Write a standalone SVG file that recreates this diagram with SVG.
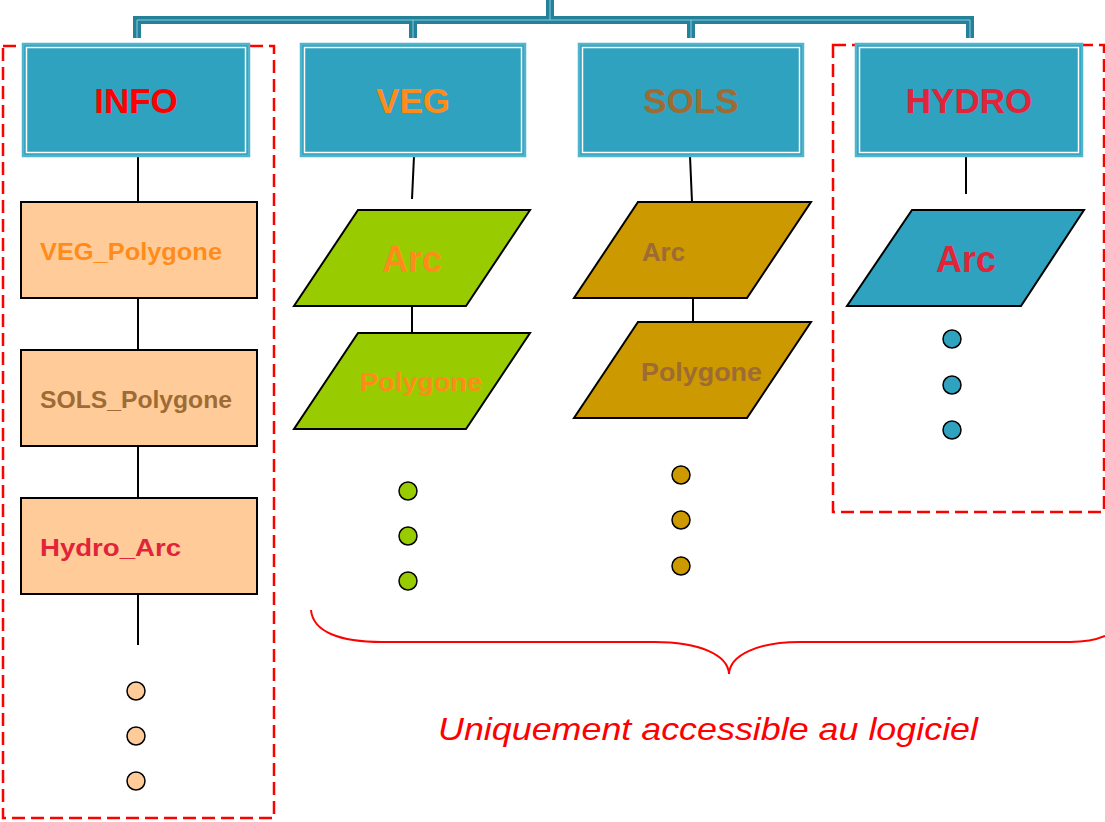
<svg xmlns="http://www.w3.org/2000/svg" width="1105" height="822" viewBox="0 0 1105 822">
<style>
.hdr{fill:#2EA2BF;stroke:#4FB4CC;stroke-width:2.5}
.hin{fill:none;stroke:#fff;stroke-width:1.5}
.ht{font-family:"Liberation Sans",Arial,sans-serif;font-weight:bold;font-size:35px;text-anchor:middle}
.lt{font-family:"Liberation Sans",Arial,sans-serif;font-weight:bold;font-size:23px}
.rect{fill:#FFCC99;stroke:#000;stroke-width:2}
.par{stroke:#000;stroke-width:2}
.ln{stroke:#000;stroke-width:2;fill:none}
.dash{fill:none;stroke:#FF0000;stroke-width:2.5;stroke-dasharray:13 6}
.dot{stroke:#000;stroke-width:1.5}
</style>
<rect width="1105" height="822" fill="#fff"/>
<g id="connectors">
<path d="M550 0 V20 M137 38 V20 H970 V38 M413 38 V20 M691 38 V20" fill="none" stroke="#23819A" stroke-width="8"/>
<path d="M550 0 V20 M137 38 V20 H970 V38 M413 38 V20 M691 38 V20" fill="none" stroke="#8CCBDB" stroke-width="1"/>
<line class="ln" x1="138" y1="156" x2="138" y2="202"/>
<line class="ln" x1="138" y1="298" x2="138" y2="350"/>
<line class="ln" x1="138" y1="446" x2="138" y2="498"/>
<line class="ln" x1="138" y1="594" x2="138" y2="645"/>
<line class="ln" x1="414" y1="156" x2="412" y2="199"/>
<line class="ln" x1="412" y1="296" x2="412" y2="333"/>
<line class="ln" x1="690" y1="156" x2="692" y2="202"/>
<line class="ln" x1="693" y1="298" x2="693" y2="322"/>
<line class="ln" x1="966" y1="152" x2="966" y2="194"/>
</g>
<rect class="dash" x="3" y="46" width="271" height="772"/>
<rect class="dash" x="833" y="45" width="271" height="467"/>
<g id="info">
<rect class="hdr" x="23" y="44" width="226" height="112"/>
<rect class="hin" x="26.5" y="47.5" width="219" height="105"/>
<text class="ht" x="136" y="113" fill="#FF0000">INFO</text>
</g>
<g id="veg">
<rect class="hdr" x="301" y="44" width="224" height="112"/>
<rect class="hin" x="304.5" y="47.5" width="217" height="105"/>
<text class="ht" x="413" y="113" fill="#FF8C1A">VEG</text>
</g>
<g id="sols">
<rect class="hdr" x="579" y="44" width="224" height="112"/>
<rect class="hin" x="582.5" y="47.5" width="217" height="105"/>
<text class="ht" x="691" y="113" fill="#9E6B35">SOLS</text>
</g>
<g id="hydro">
<rect class="hdr" x="856" y="44" width="226" height="112"/>
<rect class="hin" x="859.5" y="47.5" width="219" height="105"/>
<text class="ht" x="969" y="113" fill="#E0243A">HYDRO</text>
</g>
<g id="veg_polygone">
<rect class="rect" x="21" y="202" width="236" height="96"/>
<text class="lt" x="40" y="260" fill="#FF8C1A" textLength="182" lengthAdjust="spacingAndGlyphs">VEG_Polygone</text>
</g>
<g id="sols_polygone">
<rect class="rect" x="21" y="350" width="236" height="96"/>
<text class="lt" x="40" y="408" fill="#9E6B35" textLength="192" lengthAdjust="spacingAndGlyphs">SOLS_Polygone</text>
</g>
<g id="hydro_arc">
<rect class="rect" x="21" y="498" width="236" height="96"/>
<text class="lt" x="40" y="556" fill="#E0243A" textLength="141" lengthAdjust="spacingAndGlyphs">Hydro_Arc</text>
</g>
<g id="info_dots">
<circle class="dot" cx="136" cy="691" r="9" fill="#FFCC99"/>
<circle class="dot" cx="136" cy="736" r="9" fill="#FFCC99"/>
<circle class="dot" cx="136" cy="781" r="9" fill="#FFCC99"/>
</g>
<g id="veg_arc">
<polygon class="par" points="358,210 530,210 466,306 294,306" fill="#99CC00"/>
<text class="lt" x="412" y="272" fill="#FF8C1A" text-anchor="middle" style="font-size:36px">Arc</text>
</g>
<g id="veg_polygon">
<polygon class="par" points="358,333 530,333 466,429 294,429" fill="#99CC00"/>
<text class="lt" x="360" y="391" fill="#FF8C1A" textLength="122" lengthAdjust="spacingAndGlyphs" style="font-size:25px">Polygone</text>
</g>
<g id="veg_dots">
<circle class="dot" cx="408" cy="491" r="9" fill="#99CC00"/>
<circle class="dot" cx="408" cy="536" r="9" fill="#99CC00"/>
<circle class="dot" cx="408" cy="581" r="9" fill="#99CC00"/>
</g>
<g id="sols_arc">
<polygon class="par" points="638,202 811,202 747,298 574,298" fill="#CC9900"/>
<text class="lt" x="642" y="261" fill="#9E6B35" textLength="43" lengthAdjust="spacingAndGlyphs" style="font-size:26px">Arc</text>
</g>
<g id="sols_polygon">
<polygon class="par" points="638,322 811,322 747,418 574,418" fill="#CC9900"/>
<text class="lt" x="641" y="381" fill="#9E6B35" textLength="121" lengthAdjust="spacingAndGlyphs" style="font-size:25px">Polygone</text>
</g>
<g id="sols_dots">
<circle class="dot" cx="681" cy="475" r="9" fill="#CC9900"/>
<circle class="dot" cx="681" cy="520" r="9" fill="#CC9900"/>
<circle class="dot" cx="681" cy="566" r="9" fill="#CC9900"/>
</g>
<g id="hydro_arc_p">
<polygon class="par" points="912,210 1084,210 1021,306 847,306" fill="#2EA2BF"/>
<text class="lt" x="966" y="272" fill="#E0243A" text-anchor="middle" style="font-size:36px">Arc</text>
</g>
<g id="hydro_dots">
<circle class="dot" cx="952" cy="339" r="9" fill="#2EA2BF"/>
<circle class="dot" cx="952" cy="385" r="9" fill="#2EA2BF"/>
<circle class="dot" cx="952" cy="430" r="9" fill="#2EA2BF"/>
</g>
<g id="brace">
<path d="M311 610 C313 632 340 642 382 642 H654 C700 642 728 655 729 674 C730 655 758 642 800 642 H1070 C1088 642 1098 639 1105 636" fill="none" stroke="#FF0000" stroke-width="2"/>
<text x="708" y="740" fill="#FF0000" font-family="'Liberation Sans',Arial,sans-serif" font-style="italic" font-size="32" text-anchor="middle" textLength="540" lengthAdjust="spacingAndGlyphs">Uniquement accessible au logiciel</text>
</g>
</svg>
